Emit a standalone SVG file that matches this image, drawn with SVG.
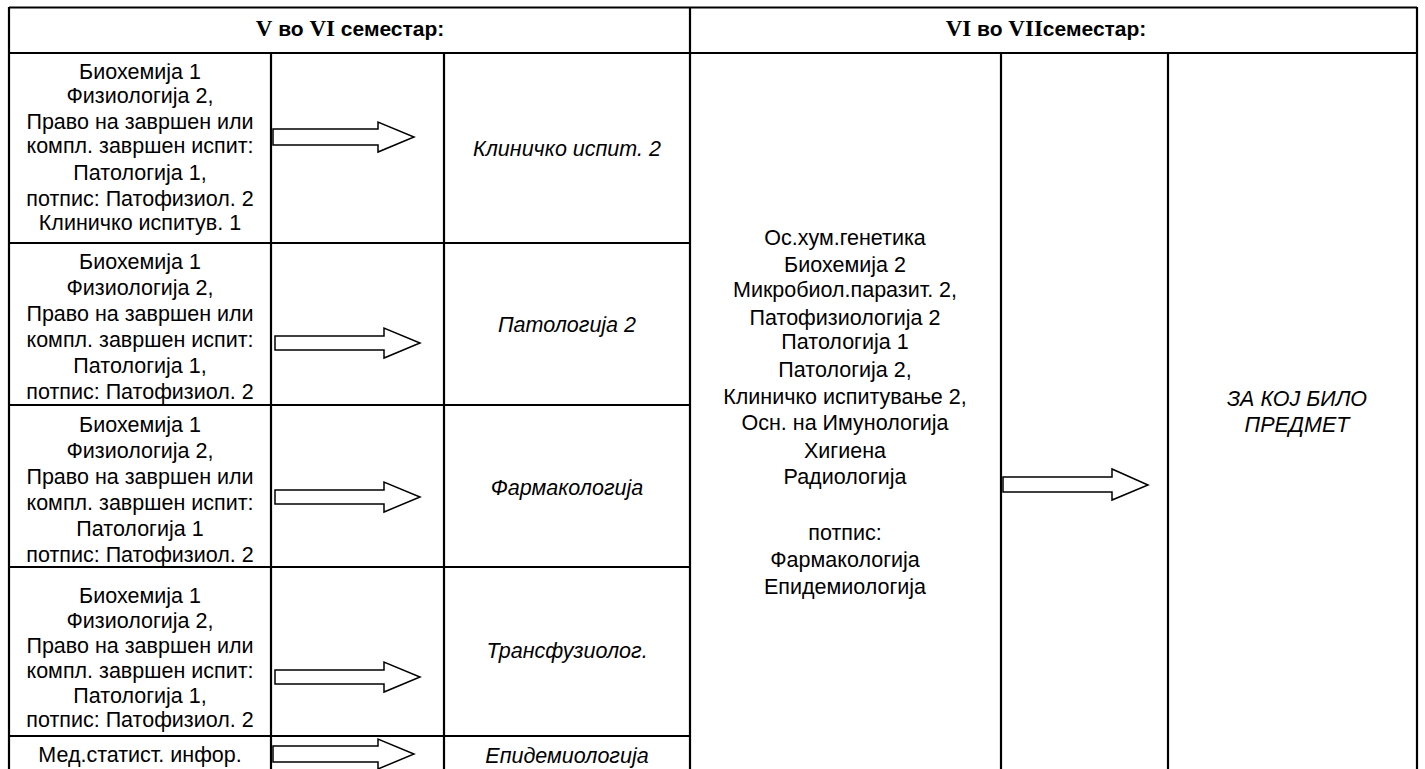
<svg xmlns="http://www.w3.org/2000/svg" width="1425" height="769" viewBox="0 0 1425 769">
<style>
.grid{stroke:#000;stroke-width:2.2;fill:none}
.t{font-family:"Liberation Sans",Arial,sans-serif;font-size:21.5px;fill:#000;text-anchor:middle}
.i{font-style:italic}
.h{font-family:"Liberation Sans",Arial,sans-serif;font-size:21px;font-weight:bold;fill:#000;text-anchor:middle}
.rn{font-family:"Liberation Serif","Times New Roman",serif;font-weight:bold;font-size:23px}
.arr{fill:#fff;stroke:#000;stroke-width:1.5;stroke-linejoin:miter}
</style>
<rect width="1425" height="769" fill="#fff"/>
<g id="grid" class="grid">
<line x1="9" y1="7.5" x2="1417" y2="7.5"/>
<line x1="9" y1="53" x2="1417" y2="53"/>
<line x1="9" y1="7" x2="9" y2="769"/>
<line x1="1417" y1="7" x2="1417" y2="769"/>
<line x1="690" y1="7" x2="690" y2="769"/>
<line x1="271" y1="53" x2="271" y2="769"/>
<line x1="444" y1="53" x2="444" y2="769"/>
<line x1="1001" y1="53" x2="1001" y2="769"/>
<line x1="1168" y1="53" x2="1168" y2="769"/>
<line x1="9" y1="243" x2="690" y2="243"/>
<line x1="9" y1="405" x2="690" y2="405"/>
<line x1="9" y1="567" x2="690" y2="567"/>
<line x1="9" y1="736" x2="690" y2="736"/>
</g>
<g id="headers">
<text class="h" x="350" y="36"><tspan class="rn">V</tspan> во <tspan class="rn">VI</tspan> семестар:</text>
<text class="h" x="1046" y="36"><tspan class="rn">VI</tspan> во <tspan class="rn">VII</tspan>семестар:</text>
</g>
<g id="req1" class="t">
<text x="140" y="79">Биохемија 1</text>
<text x="140" y="103">Физиологија 2,</text>
<text x="140" y="129">Право на завршен или</text>
<text x="140" y="153">компл. завршен испит:</text>
<text x="140" y="180">Патологија 1,</text>
<text x="140" y="206">потпис: Патофизиол. 2</text>
<text x="140" y="230">Клиничко испитув. 1</text>
</g>
<g id="req2" class="t">
<text x="140" y="269">Биохемија 1</text>
<text x="140" y="295">Физиологија 2,</text>
<text x="140" y="321">Право на завршен или</text>
<text x="140" y="347">компл. завршен испит:</text>
<text x="140" y="373">Патологија 1,</text>
<text x="140" y="399">потпис: Патофизиол. 2</text>
</g>
<g id="req3" class="t">
<text x="140" y="432">Биохемија 1</text>
<text x="140" y="458">Физиологија 2,</text>
<text x="140" y="484">Право на завршен или</text>
<text x="140" y="510">компл. завршен испит:</text>
<text x="140" y="536">Патологија 1</text>
<text x="140" y="562">потпис: Патофизиол. 2</text>
</g>
<g id="req4" class="t">
<text x="140" y="603">Биохемија 1</text>
<text x="140" y="628">Физиологија 2,</text>
<text x="140" y="653">Право на завршен или</text>
<text x="140" y="678">компл. завршен испит:</text>
<text x="140" y="703">Патологија 1,</text>
<text x="140" y="727">потпис: Патофизиол. 2</text>
</g>
<g id="req5" class="t">
<text x="140" y="762">Мед.статист. инфор.</text>
</g>
<g id="subj1" class="t i"><text x="567" y="156">Клиничко испит. 2</text></g>
<g id="subj2" class="t i"><text x="567" y="332">Патологија 2</text></g>
<g id="subj3" class="t i"><text x="567" y="495">Фармакологија</text></g>
<g id="subj4" class="t i"><text x="567" y="658">Трансфузиолог.</text></g>
<g id="subj5" class="t i"><text x="567" y="763">Епидемиологија</text></g>
<g id="req6" class="t">
<text x="845" y="245">Ос.хум.генетика</text>
<text x="845" y="272">Биохемија 2</text>
<text x="845" y="297">Микробиол.паразит. 2,</text>
<text x="845" y="325">Патофизиологија 2</text>
<text x="845" y="349">Патологија 1</text>
<text x="845" y="377">Патологија 2,</text>
<text x="845" y="404">Клиничко испитување 2,</text>
<text x="845" y="430">Осн. на Имунологија</text>
<text x="845" y="458">Хигиена</text>
<text x="845" y="484">Радиологија</text>
<text x="845" y="540">потпис:</text>
<text x="845" y="567">Фармакологија</text>
<text x="845" y="594">Епидемиологија</text>
</g>
<g id="subj6" class="t i">
<text x="1297" y="406">ЗА КОЈ БИЛО</text>
<text x="1297" y="432">ПРЕДМЕТ</text>
</g>
<g id="connectors">
<polygon class="arr" points="273,129 378,129 378,122 414,137 378,152 378,145 273,145"/>
<polygon class="arr" points="275,336 384,336 384,328 420,343 384,358 384,350 275,350"/>
<polygon class="arr" points="275,490 384,490 384,482 420,497 384,512 384,504 275,504"/>
<polygon class="arr" points="275,670 384,670 384,662 420,677 384,692 384,684 275,684"/>
<polygon class="arr" points="273,746 378,746 378,739 414,754 378,769 378,762 273,762"/>
<polygon class="arr" points="1003,477 1112,477 1112,469 1148,485 1112,500 1112,492 1003,492"/>
</g>
</svg>
